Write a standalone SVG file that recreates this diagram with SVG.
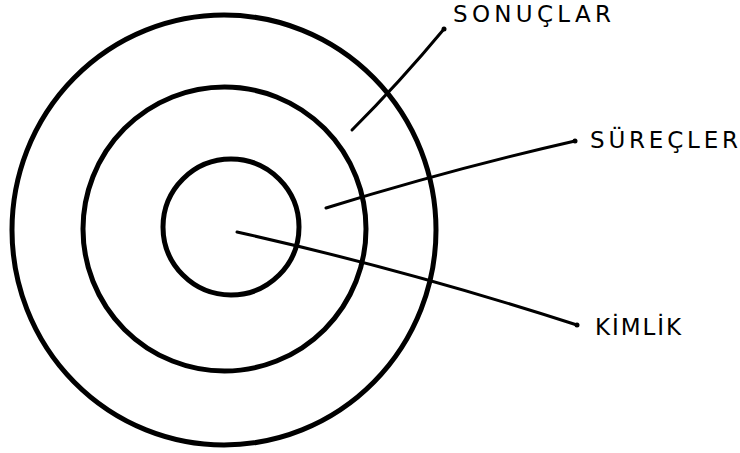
<svg xmlns="http://www.w3.org/2000/svg" width="740" height="453" viewBox="0 0 740 453">
<style>
.ring{fill:none;stroke:#000;stroke-width:5}
.lead{fill:none;stroke:#000;stroke-width:3;stroke-linecap:round}
.dot{fill:#000}
.lbl{font-family:"DejaVu Sans","Liberation Sans",sans-serif;font-size:23px;fill:#000}
</style>
<rect width="740" height="453" fill="#fff"/>
<g id="sonuclar">
<ellipse class="ring" cx="224" cy="230" rx="212" ry="215"/>
<text class="lbl" x="453" y="22" textLength="158" lengthAdjust="spacing">SONUÇLAR</text>
</g>
<g id="surecler">
<ellipse class="ring" cx="224.5" cy="229" rx="141.5" ry="142"/>
<text class="lbl" x="590" y="148" textLength="148" lengthAdjust="spacing">SÜREÇLER</text>
</g>
<g id="kimlik">
<circle class="ring" cx="231" cy="227" r="68"/>
<text class="lbl" x="595" y="335" textLength="86" lengthAdjust="spacing">KİMLİK</text>
</g>
<g id="connectors">
<path class="lead" d="M352,130 Q400,82 444,29"/>
<circle class="dot" cx="444" cy="29" r="2.5"/>
<path class="lead" d="M326,208 Q450,169.5 575,141"/>
<circle class="dot" cx="575" cy="141" r="2.5"/>
<path class="lead" d="M237,232 Q407,270 577,325"/>
<circle class="dot" cx="577" cy="325" r="2.5"/>
</g>
</svg>
